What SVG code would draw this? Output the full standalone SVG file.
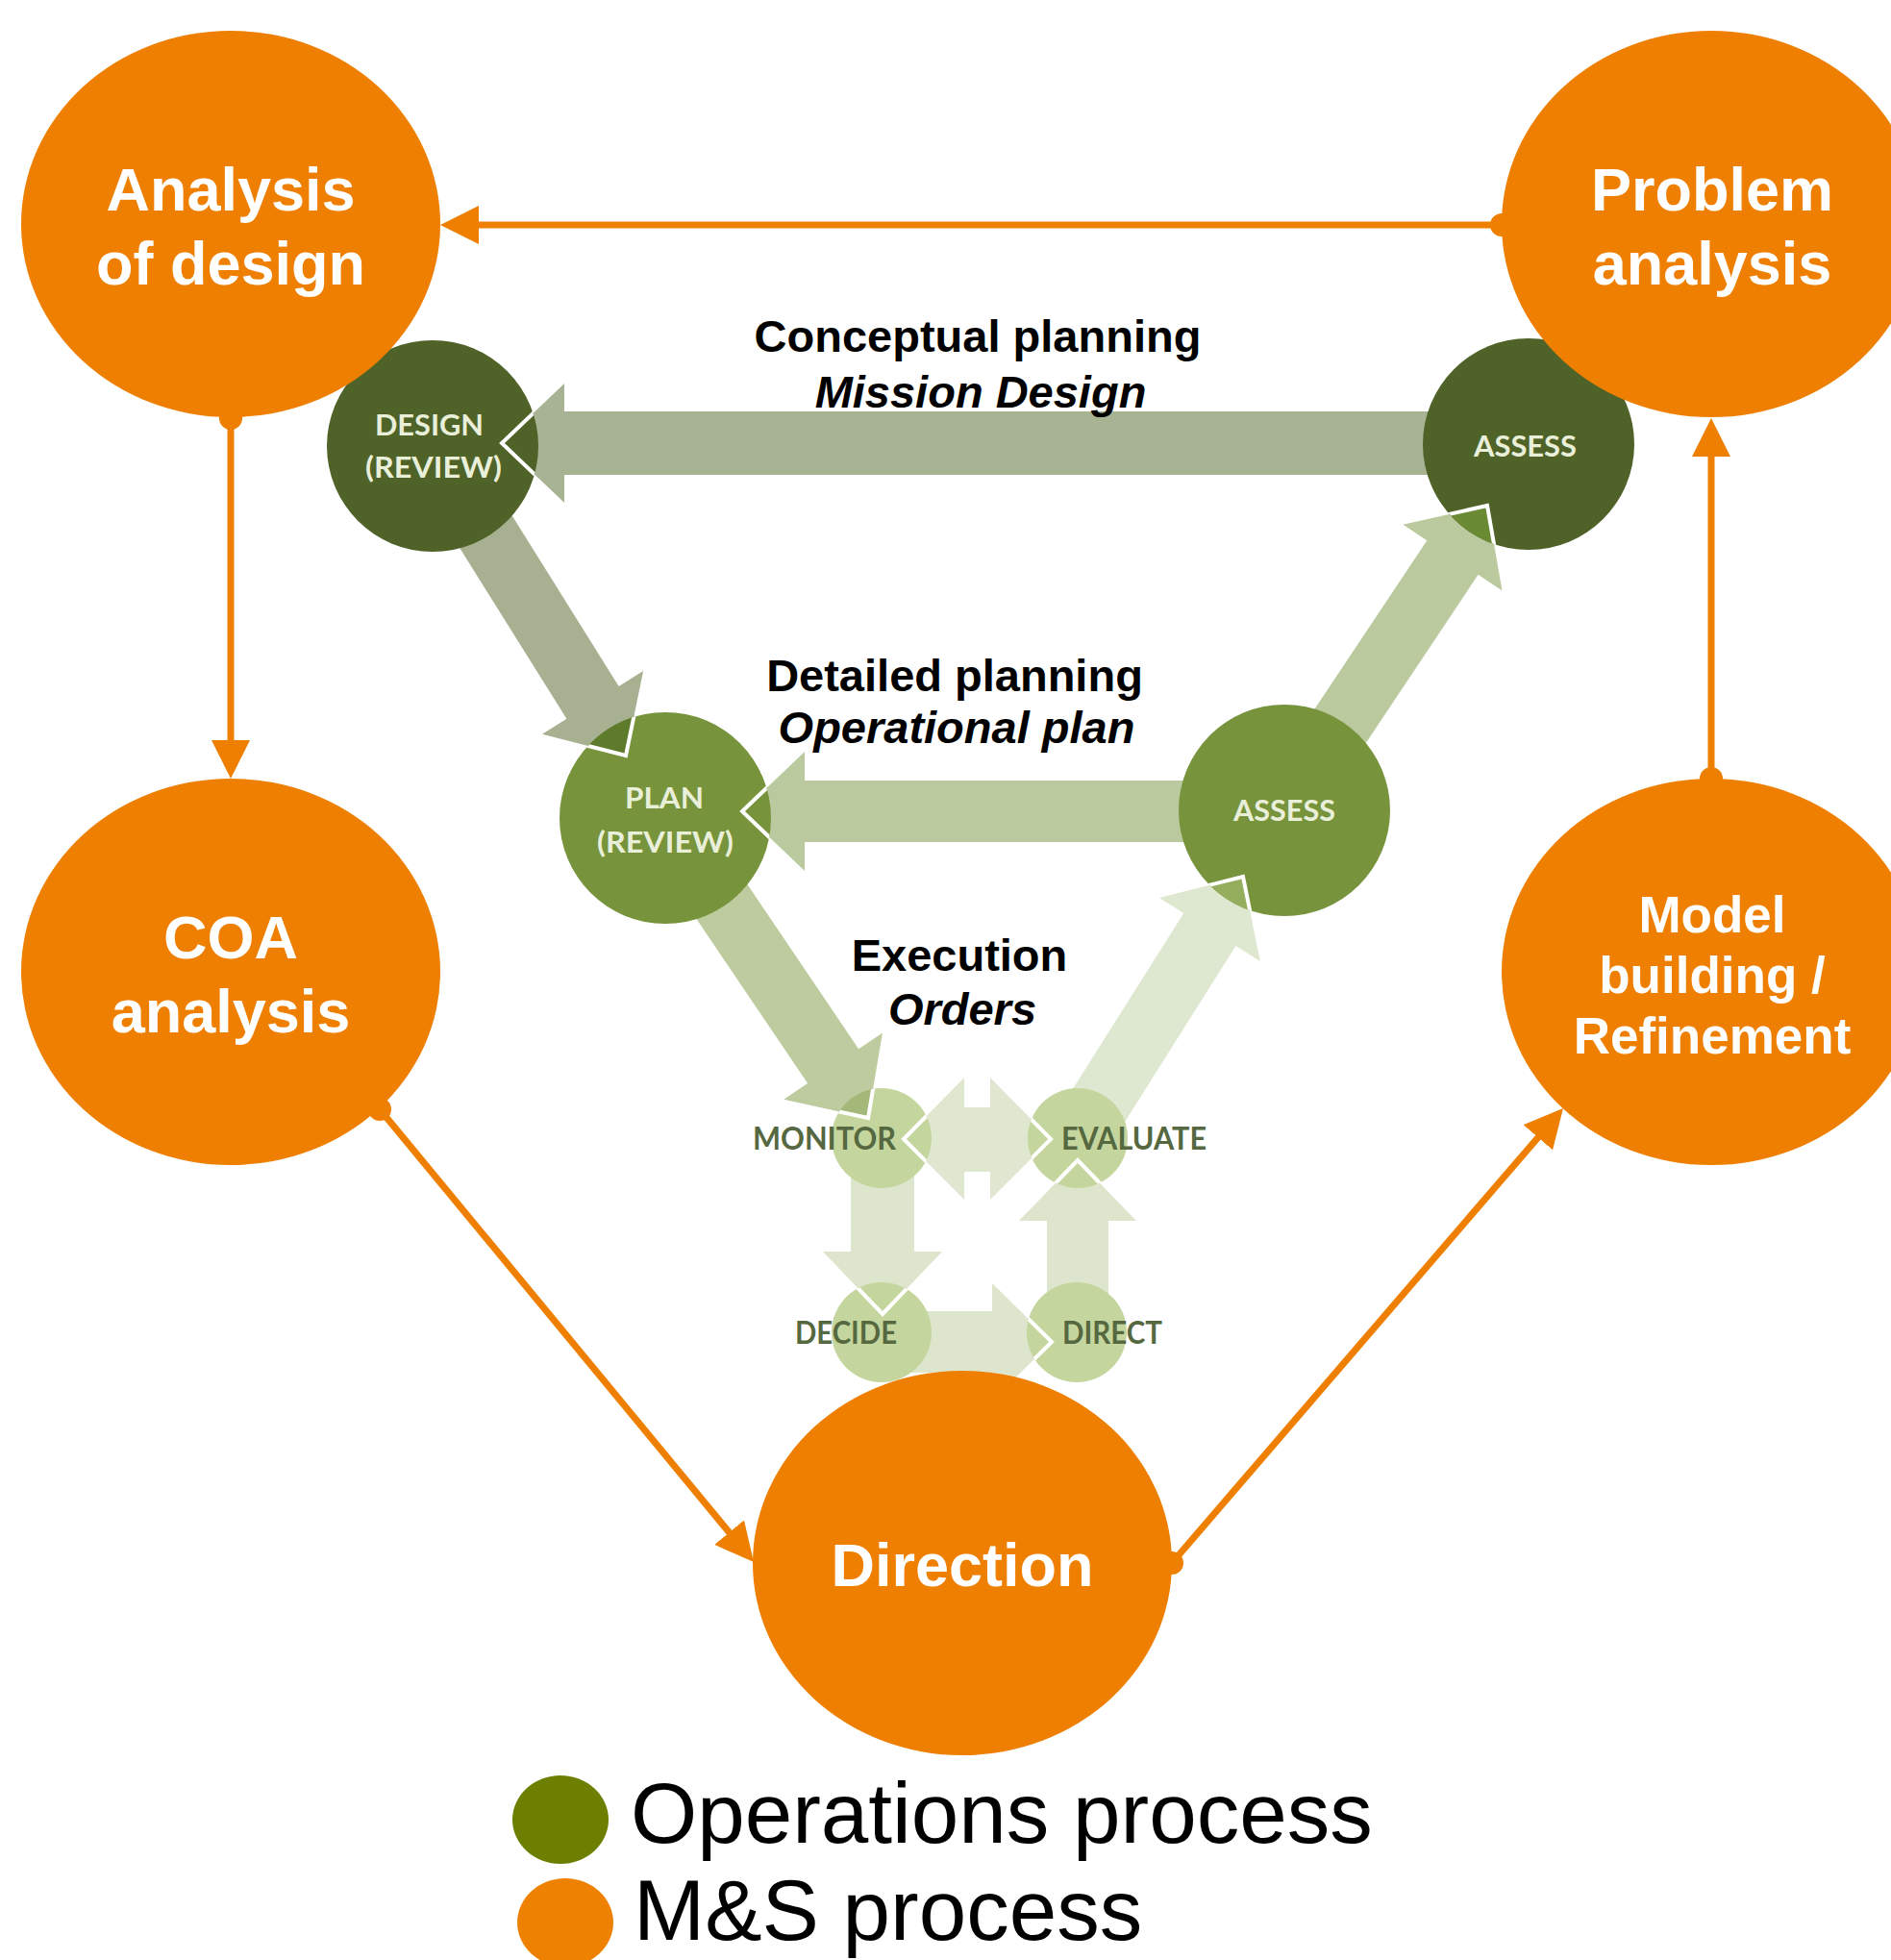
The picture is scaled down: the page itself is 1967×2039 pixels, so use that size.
<svg xmlns="http://www.w3.org/2000/svg" width="1967" height="2039" viewBox="0 0 1967 2039">
  <style>
    .ops-lbl { font-family: Lato, "Open Sans", "DejaVu Sans", sans-serif; font-weight: 700; font-size: 30px; fill: #E9EFD9; }
    .exe-lbl { font-family: Lato, "Open Sans", "DejaVu Sans", sans-serif; font-weight: 700; font-size: 32px; fill: #56683F; }
    .ms-lbl { font-family: "Liberation Sans", Arial, sans-serif; font-weight: 700; font-size: 63px; fill: #FFFFFF; text-anchor: middle; }
    .ms-sm { font-size: 53px; }
    .title { font-family: "Liberation Sans", Arial, sans-serif; font-weight: 700; font-size: 47px; fill: #000000; text-anchor: middle; }
    .title-i { font-style: italic; }
    .legend { font-family: "Liberation Sans", Arial, sans-serif; font-size: 89px; fill: #000000; }
    .ms { fill: #EE7F00; }
    .dark { fill: #4F6228; }
    .mid { fill: #77933C; }
    .light { fill: #C4D69D; }
    .chev { stroke: #FFFFFF; stroke-width: 4; stroke-linejoin: miter; }
    .conn { stroke: #EE7F00; stroke-width: 7; fill: none; marker-start: url(#dot); marker-end: url(#head); }
  </style>
  <defs>
    <!-- connector ends: arrowhead and start dot -->
    <marker id="head" viewBox="0 0 40 40" refX="10" refY="20" markerWidth="40" markerHeight="40" orient="auto" markerUnits="userSpaceOnUse">
      <path d="M0,0 L40,20 L0,40 Z" fill="#EE7F00"/>
    </marker>
    <marker id="dot" viewBox="-12 -12 24 24" refX="0" refY="0" markerWidth="24" markerHeight="24" markerUnits="userSpaceOnUse">
      <circle r="12" fill="#EE7F00"/>
    </marker>
    <clipPath id="clip-design"><circle cx="450" cy="464" r="110"/></clipPath>
    <clipPath id="clip-assess-top"><circle cx="1590" cy="462" r="110"/></clipPath>
    <clipPath id="clip-plan"><circle cx="692" cy="851" r="110"/></clipPath>
    <clipPath id="clip-assess-mid"><circle cx="1336" cy="843" r="110"/></clipPath>
    <clipPath id="clip-monitor"><circle cx="917" cy="1184" r="52"/></clipPath>
    <clipPath id="clip-evaluate"><circle cx="1121" cy="1184" r="52"/></clipPath>
    <clipPath id="clip-decide"><circle cx="917" cy="1386" r="52"/></clipPath>
    <clipPath id="clip-direct"><circle cx="1120" cy="1386" r="52"/></clipPath>
  </defs>

  <rect width="1967" height="2039" fill="#FFFFFF"/>

  <!-- operations process: block arrows (local shape points +x, tip at origin) -->
  <g id="ops-arrows">
    <path fill="#A8B394" transform="translate(522,461) rotate(180)" d="M0,0 L-65,-62 L-65,-33 L-1060,-33 L-1060,33 L-65,33 L-65,62 Z"/>
    <path fill="#A7B192" transform="translate(651,786) rotate(57.98)" d="M0,0 L-65,-62 L-65,-32 L-379,-32 L-379,32 L-65,32 L-65,62 Z"/>
    <path fill="#BBC99E" transform="translate(772,844) rotate(180)" d="M0,0 L-65,-62 L-65,-32 L-564,-32 L-564,32 L-65,32 L-65,62 Z"/>
    <path fill="#BBC99E" transform="translate(1547,526) rotate(-56.31)" d="M0,0 L-65,-62 L-65,-32 L-381,-32 L-381,32 L-65,32 L-65,62 Z"/>
    <path fill="#BDCB9F" transform="translate(903,1163) rotate(55.95)" d="M0,0 L-65,-62 L-65,-32 L-377,-32 L-377,32 L-65,32 L-65,62 Z"/>
    <path fill="#DEE7CF" transform="translate(1293,912) rotate(-57.77)" d="M0,0 L-65,-62 L-65,-32 L-322,-32 L-322,32 L-65,32 L-65,62 Z"/>
    <path fill="#DFE7D1" d="M940,1185 L1003,1121 L1003,1152 L1030,1152 L1030,1121 L1093,1185 L1030,1248 L1030,1219 L1003,1219 L1003,1248 Z"/>
    <path fill="#DDE6CD" transform="translate(918,1367) rotate(90)" d="M0,0 L-65,-62 L-65,-33 L-180,-33 L-180,33 L-65,33 L-65,62 Z"/>
    <path fill="#DDE6CD" transform="translate(1094,1396) rotate(0)" d="M0,0 L-62,-61 L-62,-32 L-180,-32 L-180,32 L-62,32 L-62,61 Z"/>
    <path fill="#DDE6CD" transform="translate(1121,1207) rotate(-90)" d="M0,0 L-63,-61 L-63,-32 L-180,-32 L-180,32 L-63,32 L-63,61 Z"/>
  </g>

  <!-- operations process: nodes -->
  <g id="node-design"><circle class="dark" cx="450" cy="464" r="110"/></g>
  <g id="node-assess-top"><circle class="dark" cx="1590" cy="462" r="110"/></g>
  <g id="node-plan"><circle class="mid" cx="692" cy="851" r="110"/></g>
  <g id="node-assess-mid"><circle class="mid" cx="1336" cy="843" r="110"/></g>
  <g id="node-monitor"><circle class="light" cx="917" cy="1184" r="52"/></g>
  <g id="node-evaluate"><circle class="light" cx="1121" cy="1184" r="52"/></g>
  <g id="node-decide"><circle class="light" cx="917" cy="1386" r="52"/></g>
  <g id="node-direct"><circle class="light" cx="1120" cy="1386" r="52"/></g>

  <!-- arrow heads where they enter a node -->
  <g id="ops-arrow-heads">
    <g clip-path="url(#clip-design)"><path class="chev" fill="none" transform="translate(522,461) rotate(180)" d="M-65,-62 L0,0 L-65,62"/></g>
    <g clip-path="url(#clip-plan)"><path class="chev" fill="#5E7A2B" transform="translate(651,786) rotate(57.98)" d="M-65,-62 L0,0 L-65,62"/></g>
    <g clip-path="url(#clip-plan)"><path class="chev" fill="none" transform="translate(772,844) rotate(180)" d="M-65,-62 L0,0 L-65,62"/></g>
    <g clip-path="url(#clip-assess-top)"><path class="chev" fill="#6A8A34" transform="translate(1547,526) rotate(-56.31)" d="M-65,-62 L0,0 L-65,62"/></g>
    <g clip-path="url(#clip-monitor)"><path class="chev" fill="#A3B879" transform="translate(903,1163) rotate(55.95)" d="M-65,-62 L0,0 L-65,62"/></g>
    <g clip-path="url(#clip-assess-mid)"><path class="chev" fill="#94AE5E" transform="translate(1293,912) rotate(-57.77)" d="M-65,-62 L0,0 L-65,62"/></g>
    <g clip-path="url(#clip-monitor)"><path class="chev" fill="none" d="M1003,1121 L940,1185 L1003,1248"/></g>
    <g clip-path="url(#clip-evaluate)"><path class="chev" fill="none" d="M1030,1121 L1093,1185 L1030,1248"/></g>
    <g clip-path="url(#clip-decide)"><path class="chev" fill="none" transform="translate(918,1367) rotate(90)" d="M-65,-62 L0,0 L-65,62"/></g>
    <g clip-path="url(#clip-direct)"><path class="chev" fill="none" transform="translate(1094,1396)" d="M-62,-61 L0,0 L-62,61"/></g>
    <g clip-path="url(#clip-evaluate)"><path class="chev" fill="none" transform="translate(1121,1207) rotate(-90)" d="M-63,-61 L0,0 L-63,61"/></g>
  </g>

  <!-- operations process: labels -->
  <g id="ops-labels">
    <text class="ops-lbl" x="390" y="453" textLength="113" lengthAdjust="spacingAndGlyphs">DESIGN</text>
    <text class="ops-lbl" x="380" y="497" textLength="142" lengthAdjust="spacingAndGlyphs">(REVIEW)</text>
    <text class="ops-lbl" x="1533" y="475" textLength="107" lengthAdjust="spacingAndGlyphs">ASSESS</text>
    <text class="ops-lbl" x="650" y="841" textLength="82" lengthAdjust="spacingAndGlyphs">PLAN</text>
    <text class="ops-lbl" x="621" y="887" textLength="142" lengthAdjust="spacingAndGlyphs">(REVIEW)</text>
    <text class="ops-lbl" x="1283" y="854" textLength="106" lengthAdjust="spacingAndGlyphs">ASSESS</text>
    <text class="exe-lbl" x="783" y="1196" textLength="149" lengthAdjust="spacingAndGlyphs">MONITOR</text>
    <text class="exe-lbl" x="1104" y="1196" textLength="151" lengthAdjust="spacingAndGlyphs">EVALUATE</text>
    <text class="exe-lbl" x="827" y="1398" textLength="106" lengthAdjust="spacingAndGlyphs">DECIDE</text>
    <text class="exe-lbl" x="1105" y="1398" textLength="104" lengthAdjust="spacingAndGlyphs">DIRECT</text>
  </g>

  <!-- planning level titles -->
  <g id="titles">
    <text class="title" x="1017" y="366">Conceptual planning</text>
    <text class="title title-i" x="1020" y="424">Mission Design</text>
    <text class="title" x="993" y="719">Detailed planning</text>
    <text class="title title-i" x="995" y="773">Operational plan</text>
    <text class="title" x="998" y="1010">Execution</text>
    <text class="title title-i" x="1001" y="1066">Orders</text>
  </g>

  <!-- M&S process nodes -->
  <g id="node-analysis-of-design">
    <ellipse class="ms" cx="240" cy="233" rx="218" ry="201"/>
    <text class="ms-lbl" x="240" y="219">Analysis</text>
    <text class="ms-lbl" x="240" y="296">of design</text>
  </g>
  <g id="node-problem-analysis">
    <ellipse class="ms" cx="1780" cy="233" rx="218" ry="201"/>
    <text class="ms-lbl" x="1781" y="219">Problem</text>
    <text class="ms-lbl" x="1781" y="296">analysis</text>
  </g>
  <g id="node-coa-analysis">
    <ellipse class="ms" cx="240" cy="1011" rx="218" ry="201"/>
    <text class="ms-lbl" x="240" y="997">COA</text>
    <text class="ms-lbl" x="240" y="1074">analysis</text>
  </g>
  <g id="node-model-building">
    <ellipse class="ms" cx="1780" cy="1011" rx="218" ry="201"/>
    <text class="ms-lbl ms-sm" x="1781" y="970">Model</text>
    <text class="ms-lbl ms-sm" x="1781" y="1033">building /</text>
    <text class="ms-lbl ms-sm" x="1781" y="1096">Refinement</text>
  </g>
  <g id="node-direction">
    <ellipse class="ms" cx="1001" cy="1626" rx="218" ry="200"/>
    <text class="ms-lbl" x="1001" y="1650">Direction</text>
  </g>

  <!-- M&S process connectors -->
  <g id="ms-connectors">
    <line class="conn" x1="1562" y1="234" x2="488" y2="234"/>
    <line class="conn" x1="240" y1="435" x2="240" y2="780"/>
    <line class="conn" x1="395" y1="1154" x2="764.9" y2="1601.9"/>
    <line class="conn" x1="1219" y1="1626" x2="1606.4" y2="1175.7"/>
    <line class="conn" x1="1780" y1="810" x2="1780" y2="465"/>
  </g>

  <!-- legend -->
  <g id="legend">
    <ellipse cx="583" cy="1893" rx="50" ry="46" fill="#6D7F00"/>
    <text class="legend" x="656" y="1917">Operations process</text>
    <ellipse cx="588" cy="2000" rx="50" ry="46" fill="#EE8200"/>
    <text class="legend" x="659" y="2018">M&amp;S process</text>
  </g>
</svg>
